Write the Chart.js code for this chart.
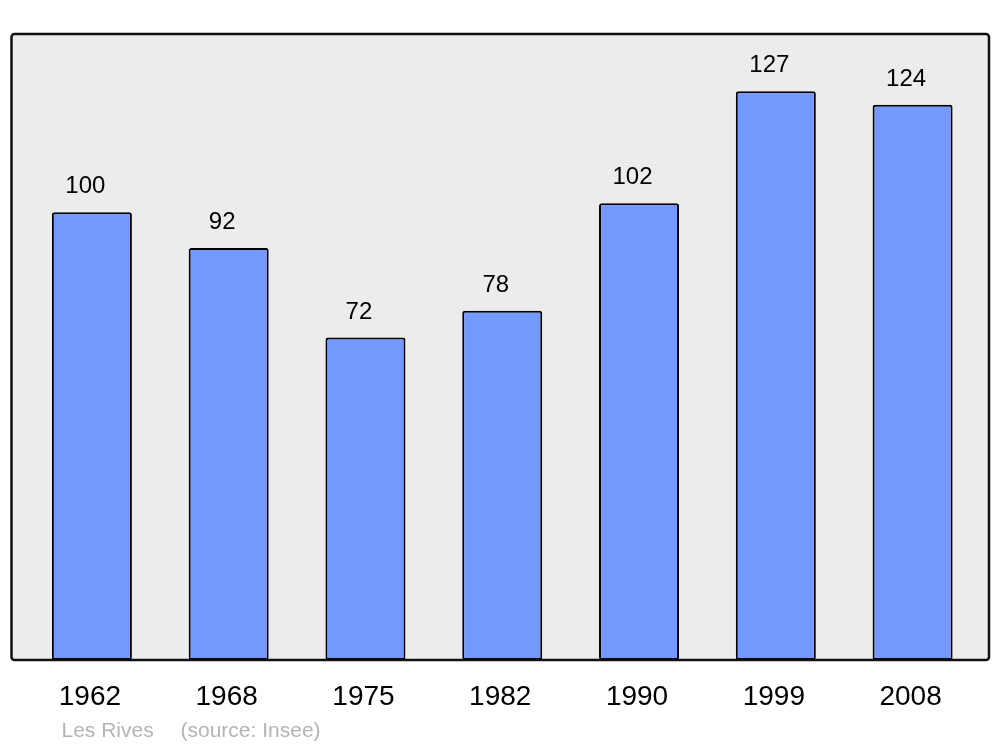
<!DOCTYPE html>
<html><head><meta charset="utf-8">
<script src="https://cdn.jsdelivr.net/npm/chart.js@4"></script>
<style>html,body{margin:0;padding:0;background:#fff}#wrap{width:1000px;height:747px}</style>
</head><body><div id="wrap"><canvas id="c" width="1000" height="747"></canvas></div>
<script>
const years = ['1962','1968','1975','1982','1990','1999','2008'];
const population = [100, 92, 72, 78, 102, 127, 124];
const yMax = 140;
const placeName = 'Les Rives';
const sourceText = '(source: Insee)';

const framePlugin = {
  id: 'frame',
  beforeDraw(chart) {
    const {ctx, chartArea: a} = chart;
    const l = a.left - 12, r = a.right + 8, t = a.top + 1, b = a.bottom;
    ctx.save();
    ctx.beginPath();
    ctx.roundRect(l, t, r - l, b - t, 3);
    ctx.fillStyle = '#ececec';
    ctx.fill();
    ctx.restore();
  },
  afterDatasetsDraw(chart) {
    const {ctx, chartArea: a} = chart;
    const l = a.left - 12, r = a.right + 8, t = a.top + 1, b = a.bottom;
    ctx.save();
    ctx.beginPath();
    ctx.roundRect(l, t, r - l, b - t, 3);
    ctx.lineWidth = 2.5;
    ctx.strokeStyle = '#111';
    ctx.stroke();
    // value labels
    const meta = chart.getDatasetMeta(0);
    ctx.fillStyle = '#000';
    ctx.font = '24px "Liberation Sans", Arial, sans-serif';
    ctx.textAlign = 'center';
    ctx.textBaseline = 'alphabetic';
    meta.data.forEach((bar, i) => {
      ctx.fillText(String(population[i]), bar.x - 6.5, bar.y - 19);
    });
    // x labels
    const xs = chart.scales.x;
    ctx.font = '28px "Liberation Sans", Arial, sans-serif';
    years.forEach((y, i) => {
      ctx.fillText(y, xs.getPixelForValue(i) - 2, a.bottom + 45);
    });
    // caption
    ctx.font = '21px "Liberation Sans", Arial, sans-serif';
    ctx.fillStyle = '#b4b4b4';
    ctx.textAlign = 'left';
    ctx.fillText(placeName, l + 50, a.bottom + 77);
    ctx.fillText(sourceText, l + 169, a.bottom + 77);
    ctx.restore();
  }
};

new Chart(document.getElementById('c'), {
  type: 'bar',
  data: {
    labels: years,
    datasets: [{
      data: population,
      backgroundColor: '#7399ff',
      borderColor: '#000',
      borderWidth: 2,
      borderRadius: 2.5,
      borderSkipped: false,
      barPercentage: 0.585,
      categoryPercentage: 1
    }]
  },
  options: {
    responsive: false,
    animation: false,
    devicePixelRatio: 1,
    layout: { padding: { left: 23.5, right: 19, top: 33, bottom: 87 } },
    plugins: { legend: { display: false }, tooltip: { enabled: false } },
    scales: {
      x: { display: false, offset: true },
      y: { display: false, min: 0, max: yMax }
    }
  },
  plugins: [framePlugin]
});
</script></body></html>
